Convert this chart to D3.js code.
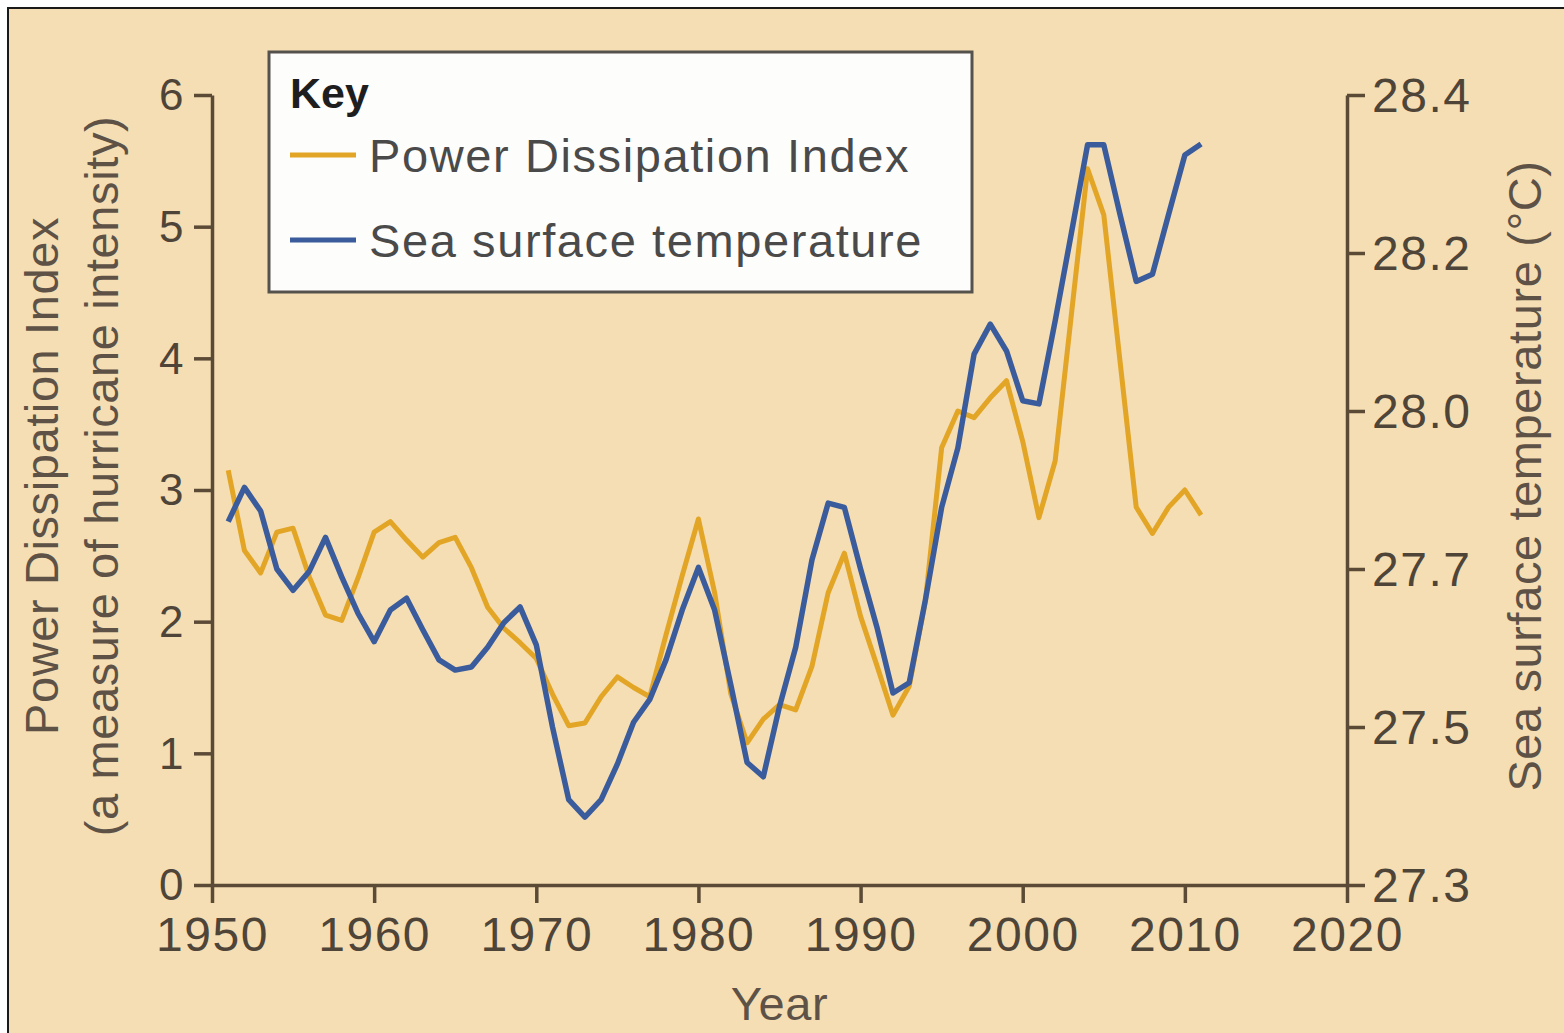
<!DOCTYPE html>
<html>
<head>
<meta charset="utf-8">
<script src="https://cdn.jsdelivr.net/npm/d3@7"></script>
<style>
  html, body { margin: 0; padding: 0; background: #fff; }
  svg { display: block; font-family: "Liberation Sans", Arial, Helvetica, sans-serif; }
  .axis path, .axis line { stroke: #5b4a36; stroke-width: 3.5; }
  .axis text { fill: #4f4438; font-size: 48px; letter-spacing: 1.5px; font-family: "Liberation Sans", Arial, sans-serif; }
  .axis.left text { font-size: 44px; }
  .title { fill: #5e5247; font-size: 47px; letter-spacing: 0.6px; }
</style>
</head>
<body>
<script>
const years = [1951, 1952, 1953, 1954, 1955, 1956, 1957, 1958, 1959, 1960,
               1961, 1962, 1963, 1964, 1965, 1966, 1967, 1968, 1969, 1970,
               1971, 1972, 1973, 1974, 1975, 1976, 1977, 1978, 1979, 1980,
               1981, 1982, 1983, 1984, 1985, 1986, 1987, 1988, 1989, 1990,
               1991, 1992, 1993, 1994, 1995, 1996, 1997, 1998, 1999, 2000,
               2001, 2002, 2003, 2004, 2005, 2006, 2007, 2008, 2009, 2010, 2011];

// Power Dissipation Index (left axis)
const pdi = [3.15, 2.54, 2.37, 2.68, 2.71, 2.34, 2.05, 2.01, 2.33, 2.68,
             2.76, 2.62, 2.49, 2.60, 2.64, 2.41, 2.11, 1.95, 1.84, 1.72,
             1.45, 1.21, 1.23, 1.43, 1.58, 1.50, 1.43, 1.90, 2.35, 2.78,
             2.22, 1.45, 1.08, 1.26, 1.37, 1.33, 1.66, 2.22, 2.52, 2.04,
             1.67, 1.29, 1.51, 2.16, 3.32, 3.60, 3.55, 3.70, 3.83, 3.37,
             2.79, 3.22, 4.33, 5.44, 5.09, 3.98, 2.87, 2.67, 2.87, 3.00, 2.81];

// Sea surface temperature in degrees C (right axis)
const sst = [27.79, 27.855, 27.81, 27.70, 27.673, 27.697, 27.76, 27.69, 27.644, 27.608,
             27.648, 27.663, 27.623, 27.585, 27.572, 27.576, 27.601, 27.632, 27.652, 27.604,
             27.50, 27.408, 27.386, 27.408, 27.453, 27.506, 27.535, 27.585, 27.648, 27.703,
             27.648, 27.553, 27.455, 27.437, 27.526, 27.601, 27.717, 27.825, 27.817, 27.70,
             27.627, 27.543, 27.556, 27.661, 27.817, 27.93, 28.072, 28.11, 28.076, 28.013,
             28.009, 28.114, 28.225, 28.337, 28.337, 28.249, 28.164, 28.173, 28.249, 28.324, 28.338];

const xTicks = [1950, 1960, 1970, 1980, 1990, 2000, 2010, 2020];
const leftTicks = [0, 1, 2, 3, 4, 5, 6];
// the right axis labels are evenly spaced in the original figure
const rightTicks = [27.3, 27.5, 27.7, 28.0, 28.2, 28.4];

const seriesNames = ["Power Dissipation Index", "Sea surface temperature"];
const colors = ["#E2A526", "#3B5C9C"];

const fullWidth = 1564, fullHeight = 1033;
const margin = { top: 95, right: 217, bottom: 148, left: 212 };
const width = fullWidth - margin.left - margin.right;
const height = fullHeight - margin.top - margin.bottom;

const svg = d3.select("body").append("svg")
    .attr("width", fullWidth)
    .attr("height", fullHeight);

// frame and background
svg.append("rect")
    .attr("x", 8).attr("y", 8)
    .attr("width", fullWidth + 20).attr("height", fullHeight + 20)
    .attr("fill", "#F5DEB3")
    .attr("stroke", "#1a1a1a")
    .attr("stroke-width", 2);

const g = svg.append("g")
    .attr("transform", `translate(${margin.left},${margin.top})`);

const x = d3.scaleLinear().domain([1950, 2020]).range([0, width]);
const y = d3.scaleLinear().domain([0, 6]).range([height, 0]);
// piecewise scale so the uneven temperature labels sit at even steps
const y2 = d3.scaleLinear()
    .domain(rightTicks)
    .range(rightTicks.map((d, i) => height - i * height / (rightTicks.length - 1)));

// axes
g.append("g")
    .attr("class", "axis")
    .attr("transform", `translate(0,${height})`)
    .call(d3.axisBottom(x).tickValues(xTicks).tickFormat(d3.format("d"))
        .tickSize(18).tickSizeOuter(0).tickPadding(14));

g.append("g")
    .attr("class", "axis left")
    .call(d3.axisLeft(y).tickValues(leftTicks).tickFormat(d3.format("d"))
        .tickSize(18).tickSizeOuter(0).tickPadding(9))
    .selectAll("text").attr("dy", "0.34em");

g.append("g")
    .attr("class", "axis")
    .attr("transform", `translate(${width},0)`)
    .call(d3.axisRight(y2).tickValues(rightTicks).tickFormat(d3.format(".1f"))
        .tickSize(18).tickSizeOuter(0).tickPadding(7))
    .selectAll("text").attr("dy", "0.34em");

// axis titles
g.append("text")
    .attr("class", "title")
    .attr("text-anchor", "middle")
    .attr("transform", `translate(${-154},${height / 2 - 14}) rotate(-90)`)
    .text("Power Dissipation Index");

g.append("text")
    .attr("class", "title")
    .attr("text-anchor", "middle")
    .attr("transform", `translate(${-94},${height / 2 - 14}) rotate(-90)`)
    .text("(a measure of hurricane intensity)");

g.append("text")
    .attr("class", "title")
    .attr("text-anchor", "middle")
    .attr("transform", `translate(${width + 194},${height / 2 - 14}) rotate(-90)`)
    .text("Sea surface temperature (°C)");

g.append("text")
    .attr("class", "title")
    .attr("text-anchor", "middle")
    .attr("x", width / 2)
    .attr("y", height + 135)
    .text("Year");

// lines
const pdiLine = d3.line()
    .x((d, i) => x(years[i]))
    .y(d => y(d));

const sstLine = d3.line()
    .x((d, i) => x(years[i]))
    .y(d => y2(d));

g.append("path")
    .datum(pdi)
    .attr("fill", "none")
    .attr("stroke", colors[0])
    .attr("stroke-width", 5)
    .attr("stroke-linejoin", "round")
    .attr("d", pdiLine);

g.append("path")
    .datum(sst)
    .attr("fill", "none")
    .attr("stroke", colors[1])
    .attr("stroke-width", 5.5)
    .attr("stroke-linejoin", "round")
    .attr("d", sstLine);

// key
const legend = svg.append("g")
    .attr("transform", "translate(269,52)");

legend.append("rect")
    .attr("width", 703)
    .attr("height", 240)
    .attr("fill", "#FDFDFB")
    .attr("stroke", "#55524d")
    .attr("stroke-width", 3);

legend.append("text")
    .attr("x", 21)
    .attr("y", 56)
    .attr("font-size", 43)
    .attr("font-weight", "bold")
    .attr("fill", "#1e1e1e")
    .text("Key");

legend.selectAll("line.key")
    .data(seriesNames)
    .join("line")
    .attr("class", "key")
    .attr("x1", 21).attr("x2", 87)
    .attr("y1", (d, i) => 103 + i * 85)
    .attr("y2", (d, i) => 103 + i * 85)
    .attr("stroke", (d, i) => colors[i])
    .attr("stroke-width", 5);

legend.selectAll("text.key")
    .data(seriesNames)
    .join("text")
    .attr("class", "key")
    .attr("x", 100)
    .attr("y", (d, i) => 120 + i * 85)
    .attr("font-size", 47)
    .attr("letter-spacing", "1.6px")
    .attr("fill", "#4a4a4a")
    .text(d => d);
</script>
</body>
</html>
